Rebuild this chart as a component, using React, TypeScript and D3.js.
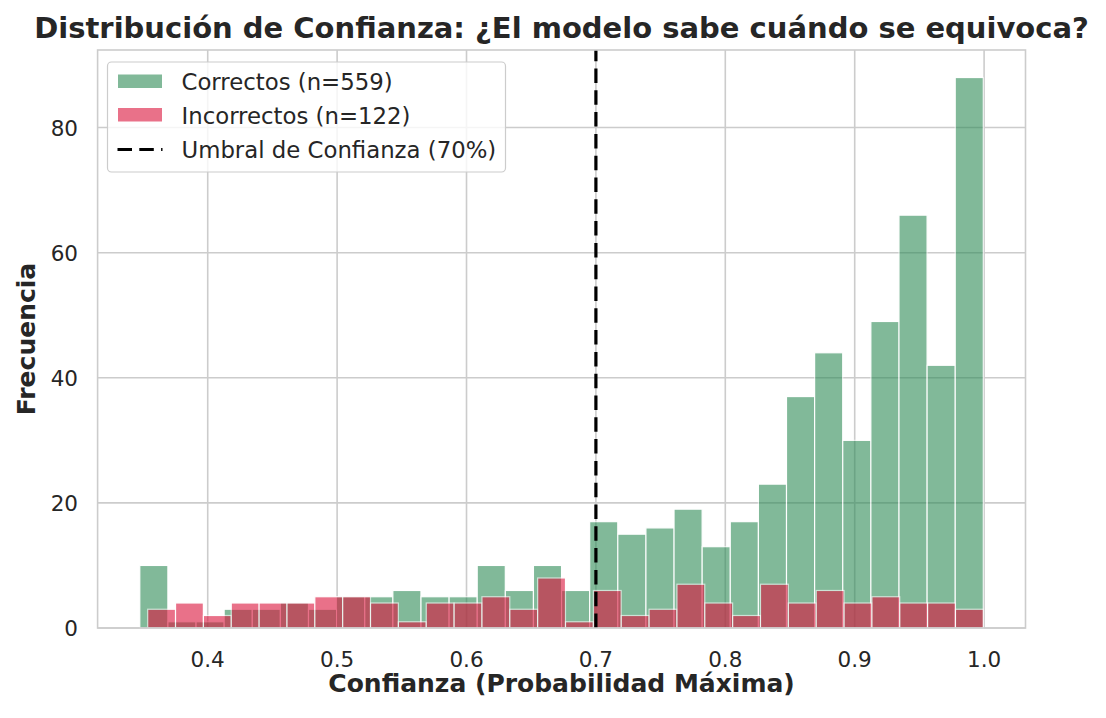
import React from "react";
import * as d3 from "d3";

// ---- data ----
const correctCounts = [10, 1, 1, 3, 3, 4, 3, 5, 5, 6, 5, 5, 10, 6, 10, 6, 17, 15, 16, 19, 13, 17, 23, 37, 44, 30, 49, 66, 42, 88];
const incorrectCounts = [3, 4, 2, 4, 4, 4, 5, 5, 4, 1, 4, 4, 5, 3, 8, 1, 6, 2, 3, 7, 4, 2, 7, 4, 6, 4, 5, 4, 4, 3];
const correctRange = [0.3475, 0.9994];
const incorrectRange = [0.3536, 0.9994];
const threshold = 0.7;
const xTicks = [0.4, 0.5, 0.6, 0.7, 0.8, 0.9, 1.0];
const yTicks = [0, 20, 40, 60, 80];
const legendLabels = ["Correctos (n=559)", "Incorrectos (n=122)", "Umbral de Confianza (70%)"];
const title = "Distribución de Confianza: ¿El modelo sabe cuándo se equivoca?";
const xLabel = "Confianza (Probabilidad Máxima)";
const yLabel = "Frecuencia";

const W = 1106, H = 718;
const L = 97.6, R = 1025.5, T = 50, B = 628;
const FONT = "'DejaVu Sans', sans-serif";
const TXT = "#262626";
const GRID = "#cccccc";
const GREEN = "#2e8b57";
const RED = "#dc143c";

function bins(counts: number[], range: number[]) {
  const w = (range[1] - range[0]) / counts.length;
  return counts.map((c, i) => ({ x0: range[0] + i * w, x1: range[0] + (i + 1) * w, c }));
}

export default function App() {
  const lo = Math.min(correctRange[0], incorrectRange[0]);
  const hi = Math.max(correctRange[1], incorrectRange[1]);
  const pad = (hi - lo) * 0.05;
  const x = d3.scaleLinear().domain([lo - pad, hi + pad]).range([L, R]);
  const ymax = Math.max(d3.max(correctCounts)!, d3.max(incorrectCounts)!) * 1.05;
  const y = d3.scaleLinear().domain([0, ymax]).range([B, T]);

  const gBins = bins(correctCounts, correctRange);
  const rBins = bins(incorrectCounts, incorrectRange);

  return (
    <svg width={W} height={H} style={{ position: "absolute", left: 0, top: 0, background: "#fff" }} fontFamily={FONT}>
      <rect x={0} y={0} width={W} height={H} fill="#fff" />
      {/* grid */}
      {xTicks.map((t) => (
        <line key={"gx" + t} x1={x(t)} x2={x(t)} y1={T} y2={B} stroke={GRID} strokeWidth={1.6} />
      ))}
      {yTicks.map((t) => (
        <line key={"gy" + t} x1={L} x2={R} y1={y(t)} y2={y(t)} stroke={GRID} strokeWidth={1.6} />
      ))}
      {/* bars */}
      {gBins.map((b, i) => (
        <rect key={"g" + i} x={x(b.x0)} y={y(b.c)} width={x(b.x1) - x(b.x0)} height={y(0) - y(b.c)}
          fill={GREEN} stroke="#fff" strokeWidth={1.2} opacity={0.6} />
      ))}
      {rBins.map((b, i) => (
        <rect key={"r" + i} x={x(b.x0)} y={y(b.c)} width={x(b.x1) - x(b.x0)} height={y(0) - y(b.c)}
          fill={RED} stroke="#fff" strokeWidth={1.2} opacity={0.6} />
      ))}
      {/* threshold */}
      <line x1={x(threshold)} x2={x(threshold)} y1={B} y2={T} stroke="#000" strokeWidth={3.2} strokeDasharray="14.5,7.3" />
      {/* spines */}
      <rect x={L} y={T} width={R - L} height={B - T} fill="none" stroke={GRID} strokeWidth={1.6} />
      {/* ticks */}
      {xTicks.map((t) => (
        <text key={"tx" + t} x={x(t)} y={667} textAnchor="middle" fontSize={21.5} fill={TXT}>{t.toFixed(1)}</text>
      ))}
      {yTicks.map((t) => (
        <text key={"ty" + t} x={78} y={y(t) + 8} textAnchor="end" fontSize={21.5} fill={TXT}>{t}</text>
      ))}
      {/* labels */}
      <text x={(L + R) / 2} y={692} textAnchor="middle" fontSize={25} fontWeight="bold" fill={TXT}>{xLabel}</text>
      <text transform={`translate(35,${(T + B) / 2}) rotate(-90)`} textAnchor="middle" fontSize={25} fontWeight="bold" fill={TXT}>{yLabel}</text>
      <text x={(L + R) / 2} y={38} textAnchor="middle" fontSize={29} fontWeight="bold" fill={TXT}>{title}</text>
      {/* legend */}
      <g>
        <rect x={107.5} y={62} width={398} height={110} rx={4} fill="#fff" fillOpacity={0.8} stroke={GRID} strokeWidth={1.2} />
        <rect x={117.5} y={74} width={45} height={14.5} fill={GREEN} opacity={0.6} stroke="#fff" strokeWidth={1} />
        <rect x={117.5} y={107.5} width={45} height={14.5} fill={RED} opacity={0.6} stroke="#fff" strokeWidth={1} />
        <line x1={117.5} x2={162.5} y1={149.5} y2={149.5} stroke="#000" strokeWidth={3.2} strokeDasharray="14.5,7.3" />
        {legendLabels.map((s, i) => (
          <text key={s} x={181.5} y={89.5 + i * 34.3} fontSize={22.8} fill={TXT}>{s}</text>
        ))}
      </g>
    </svg>
  );
}
